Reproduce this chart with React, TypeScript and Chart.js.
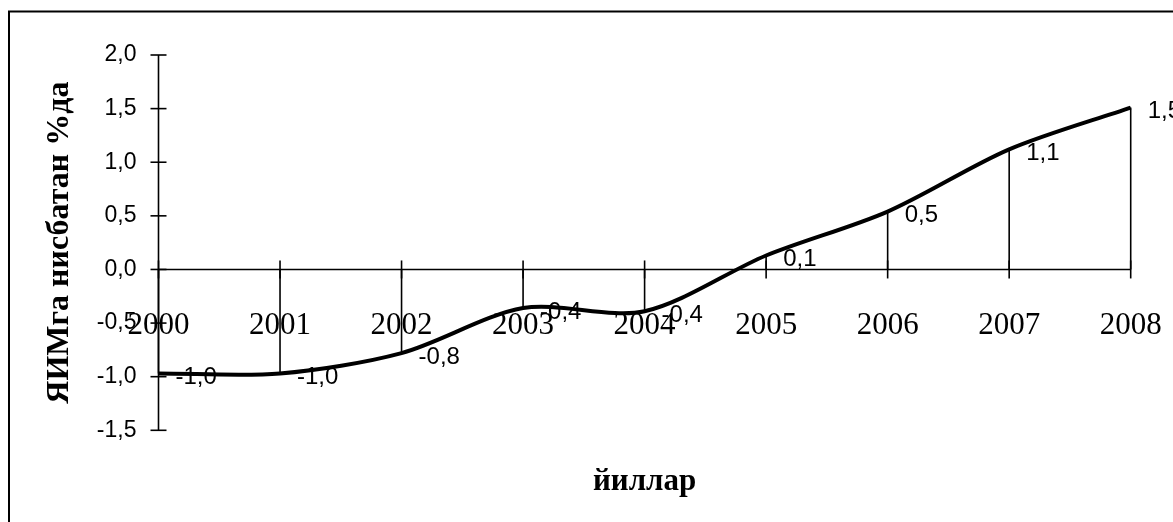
import React, { useEffect, useRef } from "react";
import { Chart, registerables } from "chart.js";

Chart.register(...registerables);

const categories = ["2000", "2001", "2002", "2003", "2004", "2005", "2006", "2007", "2008"];
const values = [-0.97, -0.97, -0.78, -0.36, -0.39, 0.13, 0.54, 1.12, 1.51];
const yMin = -1.5;
const yMax = 2.0;
const yStep = 0.5;
const yTitle = "ЯИМга нисбатан %да";
const xTitle = "йиллар";

const fmt = (v: number) => v.toFixed(1).replace(".", ",").replace("-0,0", "0,0");

const overlay = {
  id: "overlay",
  beforeDatasetsDraw(chart: any) {
    const { ctx, chartArea } = chart;
    const xs = chart.scales.x;
    const ys = chart.scales.y;
    const y0 = ys.getPixelForValue(0);
    ctx.save();
    ctx.strokeStyle = "#000";
    ctx.lineWidth = 1.6;
    ctx.beginPath();
    ctx.moveTo(chartArea.left, ys.getPixelForValue(yMax));
    ctx.lineTo(chartArea.left, ys.getPixelForValue(yMin));
    ctx.stroke();
    ys.ticks.forEach((t: any) => {
      const py = ys.getPixelForValue(t.value);
      ctx.beginPath();
      ctx.moveTo(chartArea.left - 8, py);
      ctx.lineTo(chartArea.left + 8, py);
      ctx.stroke();
    });
    ctx.beginPath();
    ctx.moveTo(chartArea.left, y0);
    ctx.lineTo(xs.getPixelForValue(categories.length - 1), y0);
    ctx.stroke();
    categories.forEach((_, i) => {
      const px = xs.getPixelForValue(i);
      ctx.beginPath();
      ctx.moveTo(px, y0 - 9);
      ctx.lineTo(px, y0 + 9);
      ctx.stroke();
    });
    const meta = chart.getDatasetMeta(0);
    meta.data.forEach((pt: any) => {
      ctx.beginPath();
      ctx.moveTo(pt.x, y0);
      ctx.lineTo(pt.x, pt.y);
      ctx.stroke();
    });
    ctx.restore();
  },
  afterDatasetsDraw(chart: any) {
    const { ctx, chartArea } = chart;
    const meta = chart.getDatasetMeta(0);
    ctx.save();
    ctx.fillStyle = "#000";
    ctx.font = "24px 'Liberation Sans', Arial, sans-serif";
    ctx.textAlign = "left";
    ctx.textBaseline = "middle";
    meta.data.forEach((pt: any, i: number) => {
      ctx.fillText(fmt(values[i]), pt.x + 17, pt.y + 4);
    });
    ctx.font = "bold 31px 'Liberation Serif', 'Times New Roman', serif";
    ctx.textAlign = "center";
    ctx.textBaseline = "alphabetic";
    ctx.fillText(xTitle, (chartArea.left + chartArea.right) / 2, chartArea.bottom + 60);
    ctx.strokeStyle = "#000";
    ctx.lineWidth = 2;
    ctx.strokeRect(9, 11.5, 1400, 800);
    ctx.restore();
  },
};

export default function App() {
  const ref = useRef<HTMLCanvasElement | null>(null);
  useEffect(() => {
    if (!ref.current) return;
    const chart = new Chart(ref.current, {
      type: "line",
      data: {
        labels: categories,
        datasets: [
          {
            data: values,
            borderColor: "#000",
            borderWidth: 4,
            pointRadius: 0,
            tension: 0.3,
            fill: false,
          },
        ],
      },
      options: {
        animation: false,
        responsive: false,
        maintainAspectRatio: false,
        layout: { padding: { left: 8.5, right: 42.3, top: 55, bottom: 91.7 } },
        plugins: { legend: { display: false }, tooltip: { enabled: false }, title: { display: false } },
        scales: {
          x: {
            type: "category",
            position: { y: 0 } as any,
            offset: false,
            grid: { display: false, drawTicks: false },
            border: { display: false },
            afterFit: (scale: any) => {
              scale.paddingLeft = 0;
              scale.paddingRight = 0;
            },
            ticks: {
              color: "#000",
              font: { family: "'Liberation Serif', 'Times New Roman', serif", size: 31 },
              padding: 38,
              maxRotation: 0,
              autoSkip: false,
            },
          },
          y: {
            min: yMin,
            max: yMax,
            grid: { display: false, drawTicks: false },
            border: { display: false },
            afterFit: (scale: any) => {
              scale.width = 150;
              scale.paddingTop = 0;
              scale.paddingBottom = 0;
            },
            ticks: {
              stepSize: yStep,
              color: "#000",
              font: { family: "'Liberation Sans', Arial, sans-serif", size: 23 },
              padding: 22,
              callback: (v: any) => fmt(Number(v)),
            },
            title: {
              display: true,
              text: yTitle,
              color: "#000",
              font: { family: "'Liberation Serif', 'Times New Roman', serif", size: 32, weight: "bold", lineHeight: 1.2 },
              padding: { top: 32, bottom: 0 },
            },
          },
        },
      },
      plugins: [overlay],
    });
    return () => chart.destroy();
  }, []);
  return (
    <div style={{ position: "fixed", left: 0, top: 0, width: 1173, height: 522, background: "#fff" }}>
      <canvas ref={ref} width={1173} height={522} style={{ width: 1173, height: 522, display: "block" }} />
    </div>
  );
}
